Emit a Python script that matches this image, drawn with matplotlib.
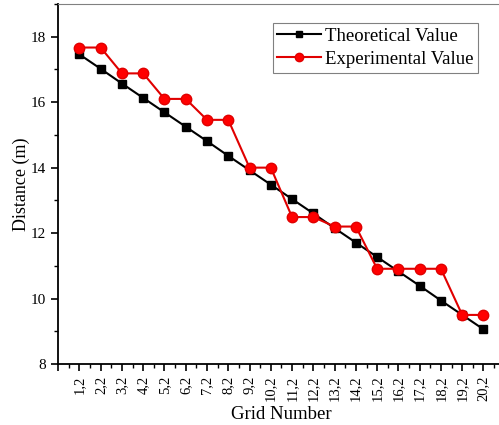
import matplotlib.pyplot as plt
import numpy as np
from matplotlib.ticker import MultipleLocator

plt.rcParams['font.family'] = ['Liberation Serif', 'DejaVu Serif']
plt.rcParams['font.size'] = 11

grid = ['1,2', '2,2', '3,2', '4,2', '5,2', '6,2', '7,2', '8,2', '9,2', '10,2',
        '11,2', '12,2', '13,2', '14,2', '15,2', '16,2', '17,2', '18,2', '19,2', '20,2']
theoretical = [17.46, 17.02, 16.57, 16.13, 15.69, 15.25, 14.81, 14.36, 13.92, 13.48,
               13.04, 12.60, 12.15, 11.71, 11.27, 10.83, 10.39, 9.94, 9.50, 9.06]
experimental = [17.67, 17.67, 16.88, 16.88, 16.10, 16.10, 15.46, 15.46, 14.00, 14.00,
                12.49, 12.49, 12.20, 12.20, 10.91, 10.91, 10.91, 10.91, 9.50, 9.50]

x = np.arange(1, len(grid) + 1)

fig = plt.figure(figsize=(4.99, 4.25), dpi=100)
ax = fig.add_axes([0.1165, 0.1435, 0.895, 0.8471])

ax.plot(x, theoretical, '-s', color='black', linewidth=1.5, markersize=6, label='Theoretical Value')
ax.plot(x, experimental, '-o', color='#e00000', markerfacecolor='#ff0000', markeredgecolor='#e00000',
        linewidth=1.5, markersize=7.5, label='Experimental Value')

ax.set_xlim(0, 21)
ax.set_ylim(8, 19)
ax.set_xticks(np.arange(0, 22))
ax.set_xticklabels([''] + grid + [''], rotation=90, fontsize=10.5)
ax.xaxis.set_minor_locator(MultipleLocator(0.5))
ax.yaxis.set_major_locator(MultipleLocator(2))
ax.yaxis.set_minor_locator(MultipleLocator(1))
ax.tick_params(which='major', direction='out', length=5, width=1.2)
ax.tick_params(which='minor', direction='out', length=3, width=1.0)

ax.spines['left'].set_linewidth(1.3)
ax.spines['bottom'].set_linewidth(1.3)
ax.spines['top'].set_color('gray')
ax.spines['top'].set_linewidth(0.8)
ax.spines['right'].set_color('gray')

ax.set_xlabel('Grid Number', fontsize=13.5, labelpad=3)
ax.set_ylabel('Distance (m)', fontsize=13, labelpad=1)

leg = ax.legend(loc='upper left', bbox_to_anchor=(0.4805, 0.948), fontsize=13.5, fancybox=False,
                edgecolor='gray', framealpha=1, borderpad=0.25, handlelength=2.3,
                handletextpad=0.25, labelspacing=0.33, borderaxespad=0, markerscale=0.8)
leg.get_frame().set_linewidth(0.8)

plt.savefig('out.png', dpi=100)
